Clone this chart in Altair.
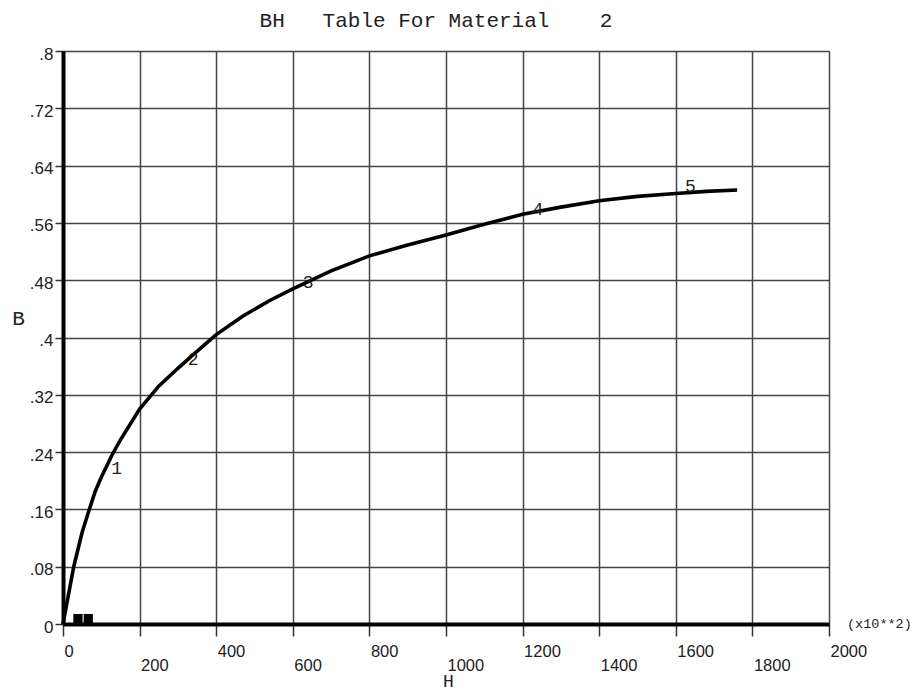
import altair as alt
import pandas as pd

# BH curve (H in units of x10**2)
H_curve = [0, 28, 50, 67, 84, 100, 128, 150, 200, 250, 300, 340, 400, 470, 541, 600, 700, 800, 900, 1000, 1100, 1200, 1300, 1400, 1500, 1600, 1680, 1760]
B_curve = [0, 0.08, 0.128, 0.157, 0.185, 0.205, 0.236, 0.257, 0.300, 0.332, 0.357, 0.376, 0.404, 0.43, 0.452, 0.468, 0.493, 0.514, 0.529, 0.543, 0.558, 0.572, 0.582, 0.591, 0.597, 0.601, 0.604, 0.606]

# point labels along the curve
label_text = ["1", "2", "3", "4", "5"]
label_H = [140, 340, 640, 1240, 1638]
label_B = [0.217, 0.368, 0.476, 0.578, 0.610]

# small markers near origin
marker_H = [39, 66]
marker_B = [0.0075, 0.0075]

x_ticks = [0, 200, 400, 600, 800, 1000, 1200, 1400, 1600, 1800, 2000]
y_ticks = [0, 0.08, 0.16, 0.24, 0.32, 0.4, 0.48, 0.56, 0.64, 0.72, 0.8]

title_text = "BH\u00a0\u00a0\u00a0Table\u00a0For\u00a0Material\u00a0\u00a0\u00a0\u00a02"
unit_text = "(x10**2)"

curve_df = pd.DataFrame({"H": H_curve, "B": B_curve})
label_df = pd.DataFrame({"H": label_H, "B": label_B, "t": label_text})
marker_df = pd.DataFrame({"H": marker_H, "B": marker_B})

MONO = "Courier New, Liberation Mono, monospace"
SANS = "Arial, Liberation Sans, sans-serif"

x_scale = alt.Scale(domain=[0, 2000], nice=False, zero=False)
y_scale = alt.Scale(domain=[0, 0.8], nice=False, zero=False)

x_axis = alt.Axis(
    values=x_ticks, grid=True, gridColor="#444444", gridWidth=1.5,
    domainColor="black", domainWidth=4, format="d",
    tickColor="#333333", tickWidth=1.5, tickSize=12,
    labelFont=SANS, labelFontSize=16.5, labelColor="#222222",
    labelAlign="left", labelBaseline="top", labelOffset=1,
    labelPadding={"condition": {"test": "datum.value % 400 == 0", "value": 7}, "value": 21},
    labelOverlap=False, labelFlush=False,
    title="H", titleFont=MONO, titleFontSize=18, titleFontWeight="normal", titleColor="#222222",
    titleX=385, titleY=62, titleAnchor="start", titleAlign="center", titleBaseline="alphabetic",
)
y_axis = alt.Axis(
    values=y_ticks, grid=True, gridColor="#444444", gridWidth=1.5,
    domainColor="black", domainWidth=4,
    tickColor="#333333", tickWidth=1.5, tickSize=8,
    labelFont=SANS, labelFontSize=17, labelColor="#222222",
    labelPadding=2, labelOffset=3, labelBaseline="middle",
    labelExpr="datum.value == 0 ? '0' : slice(format(datum.value, '.2~f'), 1)",
    labelOverlap=False, labelFlush=False,
    title="B", titleFont=MONO, titleFontSize=21, titleFontWeight="normal", titleColor="#222222",
    titleAngle=0, titleX=-45, titleY=267, titleAlign="center", titleBaseline="middle",
)

line = alt.Chart(curve_df).mark_line(color="black", strokeWidth=3.6).encode(
    x=alt.X("H:Q", scale=x_scale, axis=x_axis),
    y=alt.Y("B:Q", scale=y_scale, axis=y_axis),
)

labels = alt.Chart(label_df).mark_text(
    font=MONO, fontSize=18, color="#222222", align="center", baseline="middle"
).encode(x=alt.X("H:Q", scale=x_scale), y=alt.Y("B:Q", scale=y_scale), text="t:N")

markers = alt.Chart(marker_df).mark_square(size=85, color="black", opacity=1).encode(
    x=alt.X("H:Q", scale=x_scale), y=alt.Y("B:Q", scale=y_scale)
)

unit = alt.Chart(pd.DataFrame({"t": [unit_text]})).mark_text(
    font=MONO, fontSize=13.5, color="#222222", align="left", baseline="alphabetic"
).encode(x=alt.value(784), y=alt.value(577), text="t:N")

chart = alt.layer(line, labels, markers, unit).properties(
    width=766, height=573,
    title=alt.TitleParams(
        title_text, font=MONO, fontSize=21, fontWeight="normal",
        color="#222222", anchor="middle", dx=-10, offset=14,
    ),
    autosize=alt.AutoSizeParams(type="none"),
    padding={"left": 55, "top": 43, "right": 83, "bottom": 66},
).configure_view(stroke=None).configure(background="white")

chart.save("out.html", embed_options={"renderer": "svg", "actions": False})
